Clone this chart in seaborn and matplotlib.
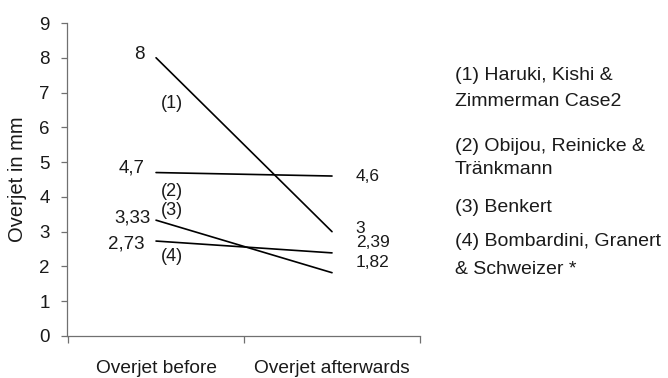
import pandas as pd
import numpy as np
import seaborn as sns
import matplotlib.pyplot as plt

# data
moments = ['Overjet before', 'Overjet afterwards']
studies = ['(1)', '(2)', '(3)', '(4)']
before = [8, 4.7, 3.33, 2.73]
after = [3, 4.6, 1.82, 2.39]
before_labels = ['8', '4,7', '3,33', '2,73']
after_labels = ['3', '4,6', '1,82', '2,39']
legend_lines = ['(1) Haruki, Kishi &', 'Zimmerman Case2',
                '(2) Obijou, Reinicke &', 'Tränkmann',
                '(3) Benkert',
                '(4) Bombardini, Granert', '& Schweizer *']

df = pd.DataFrame({
    'study': studies * 2,
    'pos': [0] * len(studies) + [1] * len(studies),
    'overjet': before + after,
})

sns.set_style('white')
plt.rcParams['font.family'] = ['Liberation Sans', 'DejaVu Sans']
txt = '#1a1a1a'

fig = plt.figure(figsize=(6.68, 3.78), dpi=100)
ax = fig.add_axes([67 / 668, 1 - 336 / 378, 353 / 668, 313 / 378])

sns.lineplot(data=df, x='pos', y='overjet', hue='study', palette=['black'] * 4,
             legend=False, linewidth=1.2, ax=ax)

ax.set_xlim(-0.506, 1.5)
ax.set_ylim(0, 9)
ax.set_yticks(range(10))
ax.set_xticks([-0.5, 0.5, 1.5])
ax.set_xticklabels([])
ax.set_xticks([0, 1], minor=True)
ax.set_xticklabels(moments, minor=True)
ax.tick_params(axis='x', which='major', direction='out', length=5, width=0.9, color='#707070', bottom=True)
ax.tick_params(axis='x', which='minor', length=0, pad=17, labelsize=13.8, labelcolor=txt)
ax.tick_params(axis='y', direction='out', length=4.3, width=0.9, color='#707070', left=True,
               pad=8, labelsize=13.5, labelcolor=txt)

for s in ['top', 'right']:
    ax.spines[s].set_visible(False)
for s in ['left', 'bottom']:
    ax.spines[s].set_color('#707070')
    ax.spines[s].set_linewidth(0.9)

ax.set_xlabel('')
ax.set_ylabel('Overjet in mm', fontsize=14.5, color=txt)
ax.yaxis.set_label_coords(-0.113, 0.5)

# value labels at both ends
left_off = [(-8.5, 2.6), (-8, 3.2), (-3.6, 1.5), (-8, -2.2)]
right_off = [(17, 2.5), (17, -0.7), (17, 7.2), (17, 7.2)]
for i in range(len(studies)):
    ax.annotate(before_labels[i], (0, before[i]), xytext=left_off[i], textcoords='offset points',
                ha='right', va='center', fontsize=13.5, color=txt)
    ax.annotate(after_labels[i], (1, after[i]), xytext=right_off[i], textcoords='offset points',
                ha='left', va='center', fontsize=12.5, color=txt)

# study numbers next to the lines
num_off = [(11.5, -32.7), (11.5, -14), (11.5, 7.3), (11.5, -10.8)]
for i, s in enumerate(studies):
    ax.annotate(s, (0, before[i]), xytext=num_off[i], textcoords='offset points',
                ha='center', va='center', fontsize=13, color=txt)

# legend as plain text on the right
legend_y = [76, 102, 147, 169, 207, 242, 269]
for line, y in zip(legend_lines, legend_y):
    fig.text(455 / 668, 1 - y / 378, line, ha='left', va='center', fontsize=14, color=txt)

plt.savefig('out.png', dpi=100)
